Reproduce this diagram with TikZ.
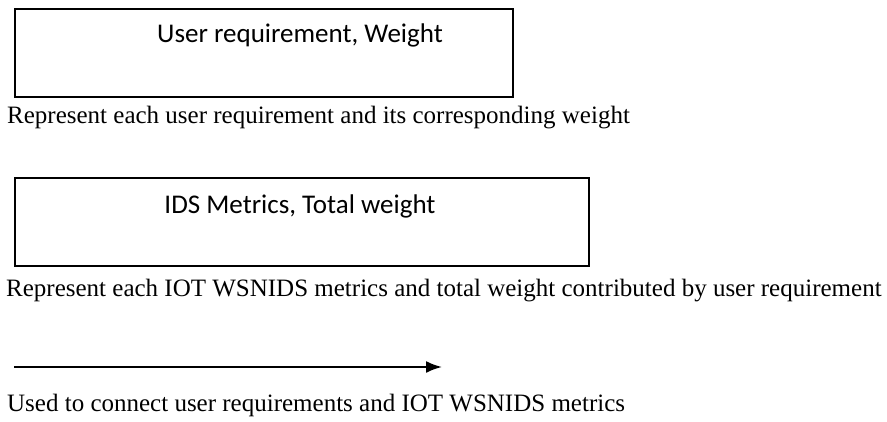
\documentclass[tikz,border=0pt]{standalone}
\usepackage{fontspec}
\usetikzlibrary{arrows.meta}
\setmainfont{Liberation Serif}
\newfontfamily\boxfont{Carlito}
\begin{document}
\begin{tikzpicture}[x=1pt,y=-1pt,
  reqbox/.style={draw, line width=1.8pt, minimum width=498pt, minimum height=88pt, anchor=north west, inner sep=0pt},
  boxtext/.style={font=\boxfont\fontsize{27}{31}\selectfont, anchor=base, inner sep=0pt},
  caption/.style={font=\fontsize{25}{28}\selectfont, anchor=base west, inner sep=0pt}]
\useasboundingbox (0,0) rectangle (887,421);
\node[reqbox] (ur) at (14,8) {};
\node[boxtext] (urt) at (300,42) {User requirement, Weight};
\node[caption] (c1) at (7,123) {Represent each user requirement and its corresponding weight};
\node[reqbox, minimum width=574pt] (ids) at (14,177) {};
\node[boxtext] (idst) at (300,213) {IDS Metrics, Total weight};
\node[caption] (c2) at (6,296) {Represent each IOT WSNIDS metrics and total weight contributed by user requirement};
\coordinate (a1) at (14,367);
\coordinate (a2) at (442,367);
\draw[line width=2pt, -{Latex[length=16pt,width=12pt]}] (a1) -- (a2);
\node[caption] (c3) at (7,411) {Used to connect user requirements and IOT WSNIDS metrics};
\end{tikzpicture}
\end{document}
